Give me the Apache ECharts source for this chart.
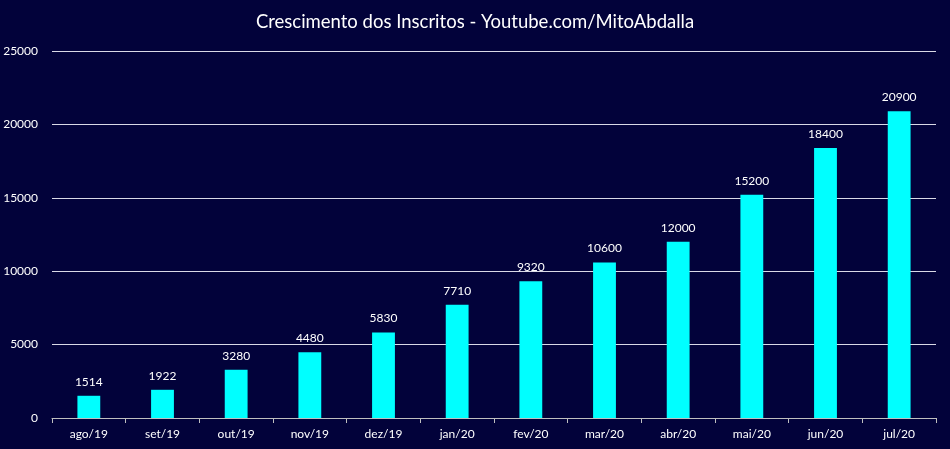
<!DOCTYPE html>
<html><head><meta charset="utf-8">
<script src="https://cdn.jsdelivr.net/npm/echarts@6/dist/echarts.min.js"></script>
<style>html,body{margin:0;padding:0;background:#02023a;}#c{width:950px;height:449px;}</style>
</head><body><div id="c"></div>
<script>
const categories = ['ago/19','set/19','out/19','nov/19','dez/19','jan/20','fev/20','mar/20','abr/20','mai/20','jun/20','jul/20'];
const inscritos = [1514,1922,3280,4480,5830,7710,9320,10600,12000,15200,18400,20900];
const titleText = 'Crescimento dos Inscritos - Youtube.com/MitoAbdalla';
const chart = echarts.init(document.getElementById('c'));
chart.setOption({
  backgroundColor:'#02023a',
  animation:false,
  textStyle:{fontFamily:'Lato'},
  title:{text:titleText,left:'center',top:8,textStyle:{color:'#ffffff',fontSize:18.5,fontWeight:'normal',fontFamily:'Lato'}},
  grid:{left:52,right:14,top:51,bottom:31},
  xAxis:{type:'category',data:categories,
    axisLine:{lineStyle:{color:'#bfbfbf'}},
    axisTick:{show:true,lineStyle:{color:'#bfbfbf'}},
    axisLabel:{color:'#ffffff',fontSize:12,margin:10}},
  yAxis:{type:'value',min:0,max:25000,interval:5000,
    axisLine:{show:false},axisTick:{show:false},
    axisLabel:{color:'#ffffff',fontSize:12,margin:14,formatter:function(v){return String(v);}},
    splitLine:{lineStyle:{color:'#d9d9e6',width:1}}},
  series:[{type:'bar',data:inscritos,barWidth:'31%',
    itemStyle:{color:'#00ffff'},
    label:{show:true,position:'top',color:'#ffffff',fontSize:12,distance:8}}]
});
</script></body></html>
